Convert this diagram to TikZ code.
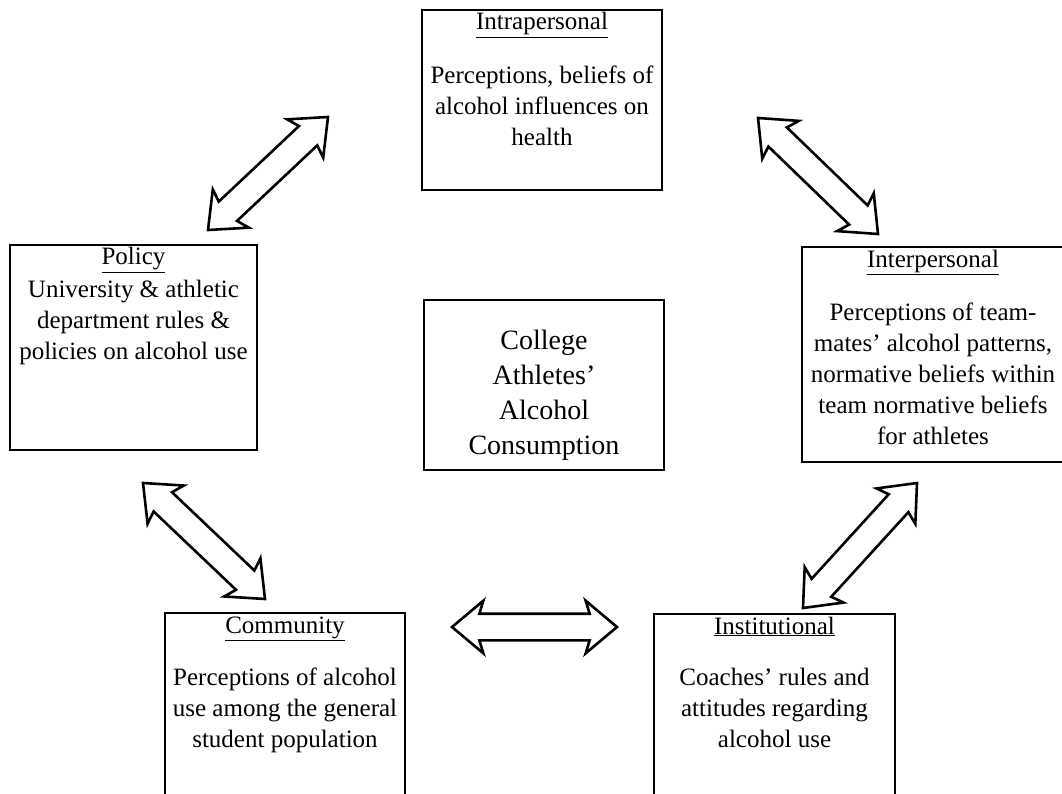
\documentclass[tikz,border=0pt]{standalone}
\usepackage{fontspec}
\setmainfont{Liberation Serif}
\usetikzlibrary{calc,positioning,shapes.arrows}
\tikzset{
  level-box/.style={draw=black, line width=1.4pt, inner sep=0pt},
  level-title/.style={
    font=\fontsize{25}{31}\selectfont,
    inner sep=0pt,
    text height=18pt,
    text depth=8pt
  },
  level-text/.style={
    font=\fontsize{25}{31}\selectfont,
    align=center,
    inner sep=0pt
  },
  core-text/.style={
    font=\fontsize{28}{35}\selectfont,
    align=center,
    inner sep=0pt
  },
  link-arrow/.style={
    double arrow,
    draw=black,
    fill=white,
    line width=2.6pt,
    line join=miter,
    inner xsep=0pt,
    inner ysep=12pt,
    double arrow head extend=13pt,
    double arrow tip angle=80,
    double arrow head indent=4pt
  }
}
\newcommand{\linkarrow}[2]{
  \path let \p1=($(#2)-(#1)$), \n1={veclen(\x1,\y1)} in
    (#1) -- (#2) node[link-arrow, midway, sloped, minimum height=\n1] {};
}

\begin{document}
\begin{tikzpicture}[x=1pt, y=-1pt]
  \useasboundingbox (0,0) rectangle (1062,794);
  \clip (0,0) rectangle (1062,794);

  % Boxes
  \node[level-box, minimum width=240pt, minimum height=180pt] (intra) at (542,100) {};
  \node[level-box, minimum width=247pt, minimum height=205pt] (policy) at (133.5,347.5) {};
  \node[level-box, minimum width=240pt, minimum height=170pt] (core) at (544,385) {};
  \node[level-box, minimum width=262pt, minimum height=215pt] (inter) at (933,354.5) {};
  \node[level-box, minimum width=240pt, minimum height=214pt] (community) at (285,720) {};
  \node[level-box, minimum width=241pt, minimum height=214pt] (institution) at (774.5,721) {};

  % Titles
  \node[level-title, below=2.5pt of intra.north] (intra-title) {\underline{Intrapersonal}};
  \node[level-title, below=2.5pt of policy.north] (policy-title) {\underline{Policy}};
  \node[level-title, below=2.5pt of inter.north] (inter-title) {\underline{Interpersonal}};
  \node[level-title, below=2.5pt of community.north] (community-title) {\underline{Community}};
  \node[level-title, below=2.5pt of institution.north] (institution-title) {\underline{Institutional}};

  % Texts
  \node[level-text, below=27pt of intra-title] (intra-text)
    {Perceptions, beliefs of\\alcohol influences on\\health};
  \node[level-text, below=7pt of policy-title] (policy-text)
    {University \& athletic\\department rules \&\\policies on alcohol use};
  \node[level-text, below=27pt of inter-title] (inter-text)
    {Perceptions of team-\\mates' alcohol patterns,\\normative beliefs within\\team normative beliefs\\for athletes};
  \node[level-text, below=26pt of community-title] (community-text)
    {Perceptions of alcohol\\use among the general\\student population};
  \node[level-text, below=26pt of institution-title] (institution-text)
    {Coaches' rules and\\attitudes regarding\\alcohol use};
  \node[core-text, below=31pt of core.north] (core-text)
    {College\\Athletes'\\Alcohol\\Consumption};

  % Arrow ends
  \coordinate (tl-a) at (208,230);
  \coordinate (tl-b) at (328,117);
  \coordinate (tr-a) at (758,118);
  \coordinate (tr-b) at (878,234);
  \coordinate (bl-a) at (143,483);
  \coordinate (bl-b) at (265,599);
  \coordinate (br-a) at (917,483);
  \coordinate (br-b) at (803,608);
  \coordinate (bm-a) at (452,627);
  \coordinate (bm-b) at (617,627);

  % Arrows
  \linkarrow{tl-a}{tl-b}
  \linkarrow{tr-a}{tr-b}
  \linkarrow{bl-a}{bl-b}
  \linkarrow{br-a}{br-b}
  \linkarrow{bm-a}{bm-b}
\end{tikzpicture}
\end{document}
